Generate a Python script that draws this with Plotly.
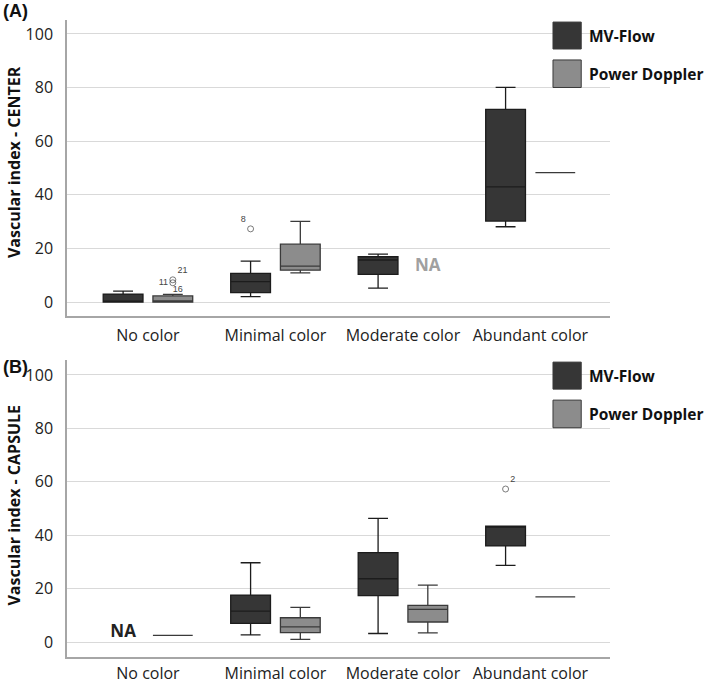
import plotly.graph_objects as go
from plotly.subplots import make_subplots

categories = ["No color", "Minimal color", "Moderate color", "Abundant color"]

# Panel A - CENTER
a_mv_x = ["No color", "Minimal color", "Moderate color", "Abundant color"]
a_mv_q1 = [0.0, 3.5, 10.3, 30.2]
a_mv_med = [0.1, 7.6, 15.7, 43.0]
a_mv_q3 = [3.0, 10.7, 16.9, 71.9]
a_mv_lo = [0.0, 2.0, 5.2, 28.1]
a_mv_hi = [4.1, 15.3, 17.9, 80.1]

a_pd_x = ["No color", "Minimal color", "Abundant color"]
a_pd_q1 = [0.0, 11.9, 48.3]
a_pd_med = [0.4, 13.4, 48.3]
a_pd_q3 = [2.3, 21.6, 48.3]
a_pd_lo = [0.0, 10.9, 48.3]
a_pd_hi = [2.9, 30.1, 48.3]

a_mv_out_x = ["Minimal color"]
a_mv_out_y = [27.3]
a_mv_out_lab = ["8"]
a_pd_out_x = ["No color", "No color", "No color"]
a_pd_out_y = [8.3, 7.2, 3.0]
a_pd_out_lab = ["21", "11", "16"]
a_na_x = ["Moderate color"]
a_na_y = [13.0]

# Panel B - CAPSULE
b_mv_x = ["Minimal color", "Moderate color", "Abundant color"]
b_mv_q1 = [7.0, 17.4, 36.0]
b_mv_med = [11.6, 23.7, 43.1]
b_mv_q3 = [17.6, 33.5, 43.4]
b_mv_lo = [2.7, 3.2, 28.7]
b_mv_hi = [29.7, 46.3, 43.4]

b_pd_x = ["No color", "Minimal color", "Moderate color", "Abundant color"]
b_pd_q1 = [2.5, 3.5, 7.5, 16.9]
b_pd_med = [2.5, 5.7, 12.2, 16.9]
b_pd_q3 = [2.5, 9.1, 13.7, 16.9]
b_pd_lo = [2.5, 1.0, 3.4, 16.9]
b_pd_hi = [2.5, 13.0, 21.3, 16.9]

b_mv_out_x = ["Abundant color"]
b_mv_out_y = [57.3]
b_mv_out_lab = ["2"]
b_na_x = ["No color"]
b_na_y = [3.4]

MV_FILL, MV_LINE = "#363636", "#1c1c1c"
PD_FILL, PD_LINE = "#8c8c8c", "#3a3a3a"
FONT = "Open Sans"

fig = make_subplots(rows=2, cols=1, vertical_spacing=0.07)


def add_box(row, name, x, q1, med, q3, lo, hi, fill, line, group):
    fig.add_trace(go.Box(
        name=name, x=x, q1=q1, median=med, q3=q3, lowerfence=lo, upperfence=hi,
        fillcolor=fill, line=dict(color=line, width=1.3), whiskerwidth=0.5,
        offsetgroup=group, boxpoints=False, showlegend=False, hoverinfo="y"),
        row=row, col=1)


def add_points(row, x, y, labels, positions, sizes, group):
    fig.add_trace(go.Scatter(
        x=x, y=y, mode="markers+text", text=labels, textposition=positions,
        textfont=dict(family="Liberation Sans", size=9, color="#444444"),
        marker=dict(symbol="circle-open", size=sizes, color="#444444",
                    line=dict(width=1)),
        offsetgroup=group, showlegend=False, cliponaxis=False), row=row, col=1)


def add_na(row, x, y, color, size, group):
    fig.add_trace(go.Scatter(
        x=x, y=y, mode="text", text=["NA"] * len(x),
        textfont=dict(family=FONT, size=size, color=color, weight="bold"),
        offsetgroup=group, showlegend=False), row=row, col=1)


add_box(1, "MV-Flow", a_mv_x, a_mv_q1, a_mv_med, a_mv_q3, a_mv_lo, a_mv_hi, MV_FILL, MV_LINE, "MV")
add_box(1, "Power Doppler", a_pd_x, a_pd_q1, a_pd_med, a_pd_q3, a_pd_lo, a_pd_hi, PD_FILL, PD_LINE, "PD")
add_box(2, "MV-Flow", b_mv_x, b_mv_q1, b_mv_med, b_mv_q3, b_mv_lo, b_mv_hi, MV_FILL, MV_LINE, "MV")
add_box(2, "Power Doppler", b_pd_x, b_pd_q1, b_pd_med, b_pd_q3, b_pd_lo, b_pd_hi, PD_FILL, PD_LINE, "PD")

add_points(1, a_mv_out_x, a_mv_out_y, a_mv_out_lab, ["top left"], [6], "MV")
add_points(1, a_pd_out_x, a_pd_out_y, a_pd_out_lab, ["top right", "middle left", "top right"], [6, 6, 0], "PD")
add_points(2, b_mv_out_x, b_mv_out_y, b_mv_out_lab, ["top right"], [6], "MV")
add_na(1, a_na_x, a_na_y, "#a0a0a0", 17, "PD")
add_na(2, b_na_x, b_na_y, "#222222", 17, "MV")

axis_common = dict(showline=True, linecolor="#a6a6a6", linewidth=1.5, mirror=False,
                   ticks="", showgrid=False, zeroline=False, automargin=False,
                   tickfont=dict(family=FONT, size=16, color="#222222"))
for r, dom, so in ((1, [0.5353, 1.0], 4), (2, [0.0, 0.4662], 1)):
    fig.update_xaxes(axis_common, type="category", categoryorder="array",
                     categoryarray=categories, range=[-0.635, 3.624],
                     ticklabelstandoff=so, row=r, col=1)
    fig.update_yaxes(axis_common, showgrid=True, gridcolor="#d9d9d9", gridwidth=1,
                     tickvals=[0, 20, 40, 60, 80, 100], ticklabelstandoff=9,
                     domain=dom, row=r, col=1)
fig.update_yaxes(range=[-5.2, 105.2], row=1, col=1)
fig.update_yaxes(range=[-5.6, 105.6], row=2, col=1)

titles = [("x domain", "y domain", "Vascular index - CENTER", 0.52),
          ("x2 domain", "y2 domain", "Vascular index - CAPSULE", 0.51)]
for xr, yr, t, yy in titles:
    fig.add_annotation(xref=xr, yref=yr, x=-0.0976, y=yy, text="<b>%s</b>" % t,
                       textangle=-90, showarrow=False, xanchor="center", yanchor="middle",
                       font=dict(family=FONT, size=16, color="#111111"))

# panel letters
fig.add_annotation(xref="paper", yref="paper", x=-0.122, y=1.014, text="<b>(A)</b>",
                   showarrow=False, xanchor="left", yanchor="middle",
                   font=dict(family="Liberation Sans", size=18, color="#111111"))
fig.add_annotation(xref="paper", yref="paper", x=-0.122, y=0.455, text="<b>(B)</b>",
                   showarrow=False, xanchor="left", yanchor="middle",
                   font=dict(family="Liberation Sans", size=18, color="#111111"))

# custom legends
for xr, yr in (("x domain", "y domain"), ("x2 domain", "y2 domain")):
    for (y0, y1, fill, label) in ((0.902, 0.993, MV_FILL, "MV-Flow"),
                                  (0.772, 0.865, PD_FILL, "Power Doppler")):
        fig.add_shape(type="rect", xref=xr, yref=yr, x0=0.895, x1=0.947, y0=y0, y1=y1,
                      fillcolor=fill, line=dict(color="#3a3a3a", width=1))
        fig.add_annotation(xref=xr, yref=yr, x=0.958, y=(y0 + y1) / 2, text="<b>%s</b>" % label,
                           showarrow=False, xanchor="left", yanchor="middle",
                           font=dict(family=FONT, size=15.5, color="#111111"))

fig.update_layout(
    width=709, height=683,
    margin=dict(l=67, r=99, t=20, b=26),
    paper_bgcolor="white", plot_bgcolor="white",
    boxmode="group", boxgap=0.22, boxgroupgap=0.2,
    scattermode="group", scattergap=0.22,
    showlegend=False,
    font=dict(family=FONT),
)

fig.write_html("out.html", config={"displayModeBar": False},
               post_script="document.body.style.margin='0';")
